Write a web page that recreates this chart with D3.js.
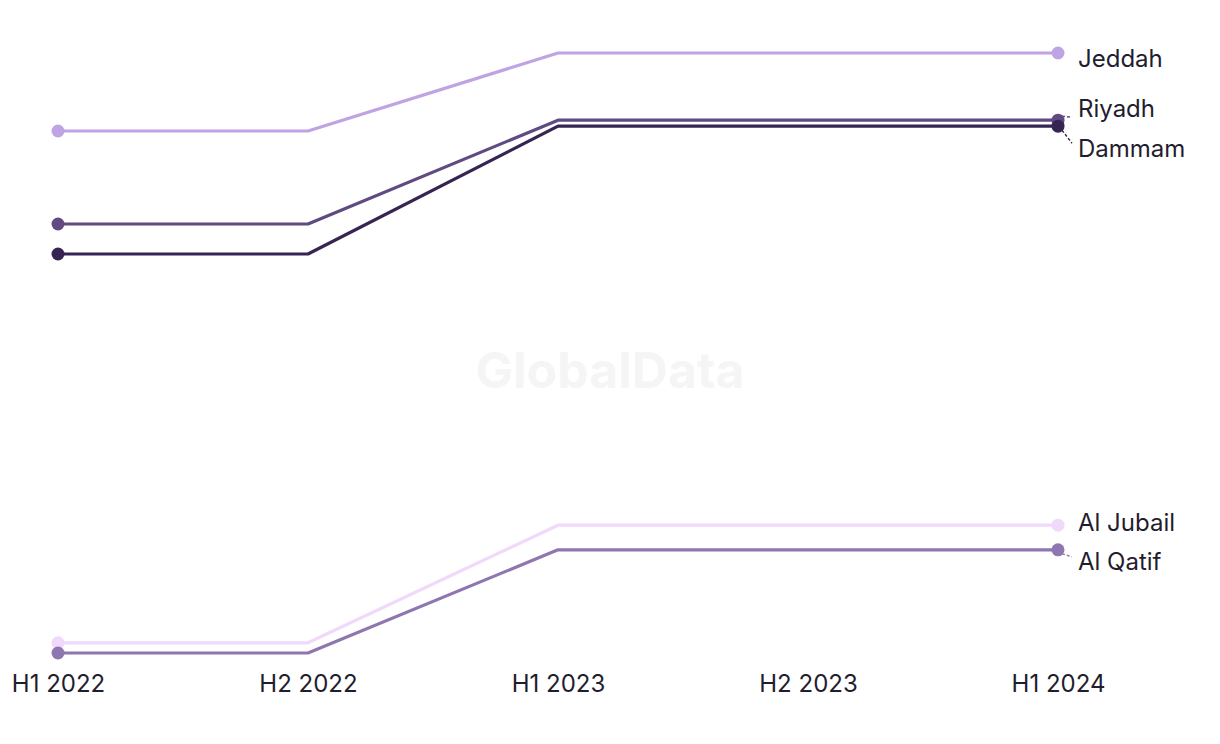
<!DOCTYPE html>
<html>
<head>
<meta charset="utf-8">
<script src="https://cdn.jsdelivr.net/npm/d3@7"></script>
<style>
  html, body { margin: 0; padding: 0; background: #ffffff; }
  svg { display: block; }
</style>
</head>
<body>
<svg id="chart" width="1220" height="744"></svg>
<script>
// ---- Data (index values; no y axis shown) ----
const periods = ["H1 2022", "H2 2022", "H1 2023", "H2 2023", "H1 2024"];
const cities = ["Jeddah", "Riyadh", "Dammam", "Al Jubail", "Al Qatif"];
const jeddah   = [87.0, 87.0, 100.0, 100.0, 100.0];
const riyadh   = [71.5, 71.5, 88.8, 88.8, 88.8];
const dammam   = [66.5, 66.5, 87.8, 87.8, 87.8];
const alJubail = [1.7, 1.7, 21.3, 21.3, 21.3];
const alQatif  = [0.0, 0.0, 17.2, 17.2, 17.2];
const colors = ["#bea4e2", "#604a82", "#362452", "#f0d9fa", "#8e77b0"];
// label vertical offsets (px) relative to last point, for de-overlap
const labelOffsets = [7, -10, 24, -1, 14];

const seriesValues = [jeddah, riyadh, dammam, alJubail, alQatif];
const series = cities.map((c, i) => ({ name: c, values: seriesValues[i], color: colors[i], dy: labelOffsets[i] }));

const svg = d3.select("#chart");
const margin = { left: 58, right: 162, top: 53, bottom: 91 };
const W = 1220, H = 744;

const x = d3.scalePoint().domain(periods).range([margin.left, W - margin.right]);
const y = d3.scaleLinear().domain([0, 100]).range([H - margin.bottom, margin.top]);

const fontFamily = "Inter, 'Noto Sans', sans-serif";
const textColor = "#1f1d2e";
const fontSize = 24;

// watermark
svg.append("text")
  .attr("x", 610).attr("y", 374)
  .attr("text-anchor", "middle").attr("dominant-baseline", "middle")
  .attr("font-family", fontFamily).attr("font-weight", 700)
  .attr("font-size", 50).attr("fill", "#f5f5f5")
  .text("GlobalData");

// x axis (labels only)
const xAxis = d3.axisBottom(x).tickSize(0).tickPadding(0);
const gx = svg.append("g").attr("transform", `translate(0, ${H - margin.bottom + 22})`).call(xAxis);
gx.select(".domain").remove();
gx.selectAll("text")
  .attr("font-family", fontFamily).attr("font-size", fontSize).attr("fill", textColor)
  .attr("dy", "0.71em");

const line = d3.line().x((d, i) => x(periods[i])).y(d => y(d));

const g = svg.append("g");
series.forEach(s => {
  g.append("path")
    .attr("d", line(s.values))
    .attr("fill", "none").attr("stroke", s.color).attr("stroke-width", 3.2)
    .attr("stroke-linejoin", "round");
  const last = s.values.length - 1;
  [0, last].forEach(i => {
    g.append("circle")
      .attr("cx", x(periods[i])).attr("cy", y(s.values[i])).attr("r", 6.5)
      .attr("fill", s.color);
  });
});

// labels with leader lines
series.forEach(s => {
  const last = s.values.length - 1;
  const px = x(periods[last]), py = y(s.values[last]);
  const ly = py + s.dy;
  if (Math.abs(s.dy) > 8) {
    const dir = s.dy > 0 ? 1 : -1;
    svg.append("line")
      .attr("x1", px + 4).attr("y1", py + dir * 4)
      .attr("x2", px + 14).attr("y2", ly - dir * 7)
      .attr("stroke", s.color).attr("stroke-width", 1.4)
      .attr("stroke-dasharray", "3,2");
  }
  svg.append("text")
    .attr("x", px + 20).attr("y", ly)
    .attr("dominant-baseline", "middle")
    .attr("font-family", fontFamily).attr("font-size", fontSize).attr("fill", textColor)
    .text(s.name);
});
</script>
</body>
</html>
